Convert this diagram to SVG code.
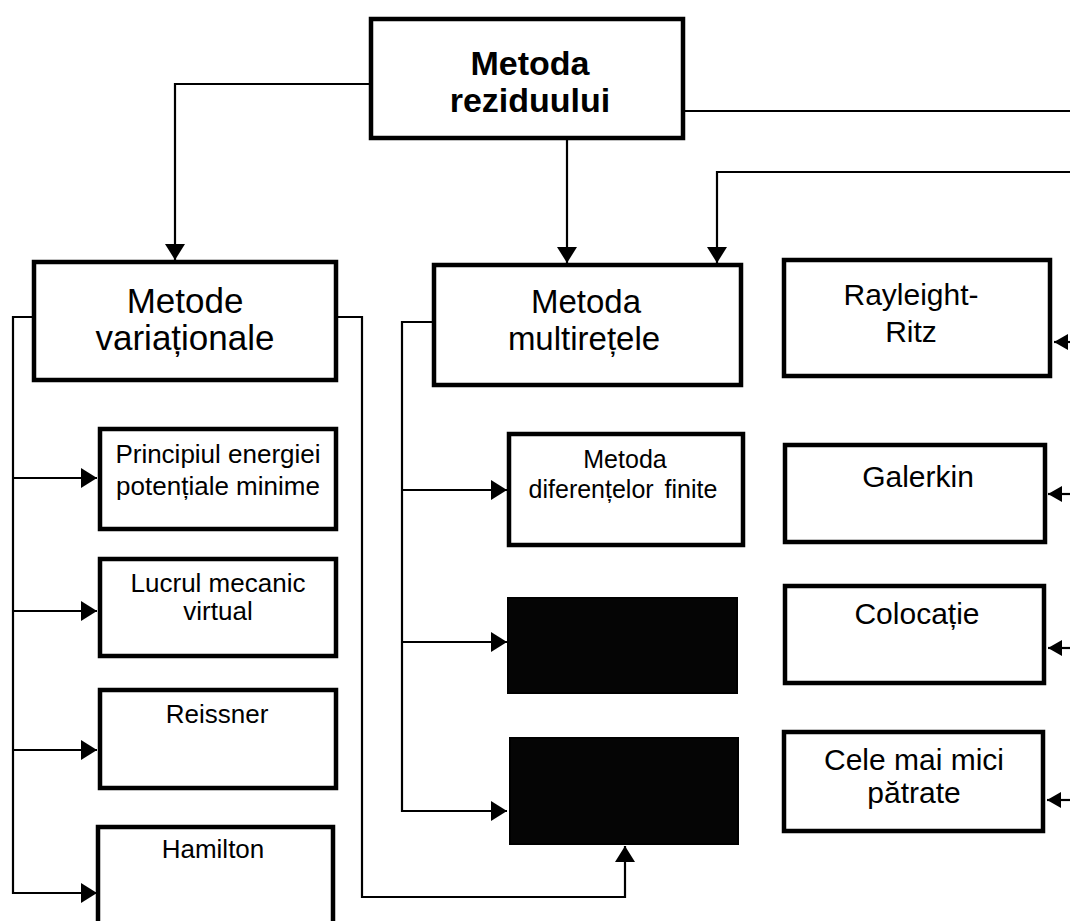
<svg xmlns="http://www.w3.org/2000/svg" width="1070" height="921" viewBox="0 0 1070 921">
  <style>
    .box { fill: #ffffff; stroke: #000000; stroke-width: 4.5; }
    .solid { fill: #050505; stroke: #000000; stroke-width: 2; }
    .wire { fill: none; stroke: #000000; stroke-width: 2.2; }
    text { font-family: "Liberation Sans", Arial, sans-serif; fill: #000000; text-anchor: middle; }
    .title { font-size: 34px; font-weight: bold; }
    .big { font-size: 35px; }
    .mid { font-size: 33px; }
    .right { font-size: 30px; }
    .small { font-size: 26px; }
    .fd { font-size: 25px; }
  </style>
  <defs>
    <marker id="head" markerUnits="userSpaceOnUse" markerWidth="20" markerHeight="22" refX="16" refY="10" orient="auto">
      <path d="M0,0 L16,10 L0,20 z" fill="#000000"/>
    </marker>
    <marker id="headS" markerUnits="userSpaceOnUse" markerWidth="16" markerHeight="18" refX="14" refY="8" orient="auto">
      <path d="M0,0 L14,8 L0,16 z" fill="#000000"/>
    </marker>
  </defs>

  <!-- connectors -->
  <g id="connectors">
    <!-- root to the two main branches -->
    <path class="wire" d="M369,84 H175 V260" marker-end="url(#head)"/>
    <path class="wire" d="M567,140 V263" marker-end="url(#head)"/>
    <path class="wire" d="M685,111 H1070"/>
    <path class="wire" d="M1070,172 H717 V263" marker-end="url(#head)"/>

    <!-- variational methods: left bus -->
    <path class="wire" d="M32,317 H13 V893 H97" marker-end="url(#head)"/>
    <path class="wire" d="M13,478 H97" marker-end="url(#head)"/>
    <path class="wire" d="M13,611 H97" marker-end="url(#head)"/>
    <path class="wire" d="M13,750 H97" marker-end="url(#head)"/>

    <!-- variational methods: route to bottom filled block -->
    <path class="wire" d="M338,317 H362 V897 H625 V846" marker-end="url(#head)"/>

    <!-- multigrid: left bus -->
    <path class="wire" d="M432,322 H402 V811 H507" marker-end="url(#head)"/>
    <path class="wire" d="M402,490 H507" marker-end="url(#head)"/>
    <path class="wire" d="M402,642 H507" marker-end="url(#head)"/>

    <!-- incoming from the right edge -->
    <path class="wire" d="M1070,342 H1054" marker-end="url(#headS)"/>
    <path class="wire" d="M1070,494 H1048" marker-end="url(#headS)"/>
    <path class="wire" d="M1070,648 H1048" marker-end="url(#headS)"/>
    <path class="wire" d="M1070,800 H1047" marker-end="url(#headS)"/>
  </g>

  <!-- root -->
  <g id="metoda-reziduului">
    <rect class="box" x="371" y="19" width="312" height="119" stroke-width="5"/>
    <text class="title" x="530" y="75">Metoda</text>
    <text class="title" x="530" y="112">reziduului</text>
  </g>

  <!-- main branches -->
  <g id="metode-variationale">
    <rect class="box" x="34" y="262" width="302" height="118"/>
    <text class="big" x="185" y="313">Metode</text>
    <text class="big" x="185" y="350">variaționale</text>
  </g>

  <g id="metoda-multiretele">
    <rect class="box" x="434" y="265" width="307" height="120"/>
    <text class="mid" x="586" y="313">Metoda</text>
    <text class="mid" x="584" y="350">multirețele</text>
  </g>

  <g id="rayleight-ritz">
    <rect class="box" x="784" y="260" width="266" height="116"/>
    <text class="right" x="911" y="305">Rayleight-</text>
    <text class="right" x="911" y="342">Ritz</text>
  </g>

  <!-- variational children -->
  <g id="principiul-energiei">
    <rect class="box" x="100" y="429" width="236" height="100"/>
    <text class="small" x="218" y="463">Principiul energiei</text>
    <text class="small" x="218" y="495">potențiale minime</text>
  </g>

  <g id="lucrul-mecanic">
    <rect class="box" x="100" y="559" width="236" height="97"/>
    <text class="small" x="218" y="592">Lucrul mecanic</text>
    <text class="small" x="218" y="620">virtual</text>
  </g>

  <g id="reissner">
    <rect class="box" x="100" y="690" width="236" height="98"/>
    <text class="small" x="217" y="723">Reissner</text>
  </g>

  <g id="hamilton">
    <rect class="box" x="98" y="827" width="235" height="110"/>
    <text class="small" x="213" y="858">Hamilton</text>
  </g>

  <!-- multigrid children -->
  <g id="diferente-finite">
    <rect class="box" x="509" y="434" width="234" height="111"/>
    <text class="fd" x="625" y="468">Metoda</text>
    <text class="fd" x="623" y="498" word-spacing="4">diferențelor finite</text>
  </g>

  <g id="bloc-plin-1">
    <rect class="solid" x="508" y="598" width="229" height="95"/>
  </g>

  <g id="bloc-plin-2">
    <rect class="solid" x="510" y="738" width="228" height="106"/>
  </g>

  <!-- weighted residual children -->
  <g id="galerkin">
    <rect class="box" x="785" y="445" width="260" height="97"/>
    <text class="right" x="918" y="487">Galerkin</text>
  </g>

  <g id="colocatie">
    <rect class="box" x="785" y="586" width="259" height="97"/>
    <text class="right" x="917" y="624">Colocație</text>
  </g>

  <g id="cele-mai-mici-patrate">
    <rect class="box" x="784" y="732" width="259" height="99"/>
    <text class="right" x="914" y="770">Cele mai mici</text>
    <text class="right" x="914" y="803">pătrate</text>
  </g>
</svg>
